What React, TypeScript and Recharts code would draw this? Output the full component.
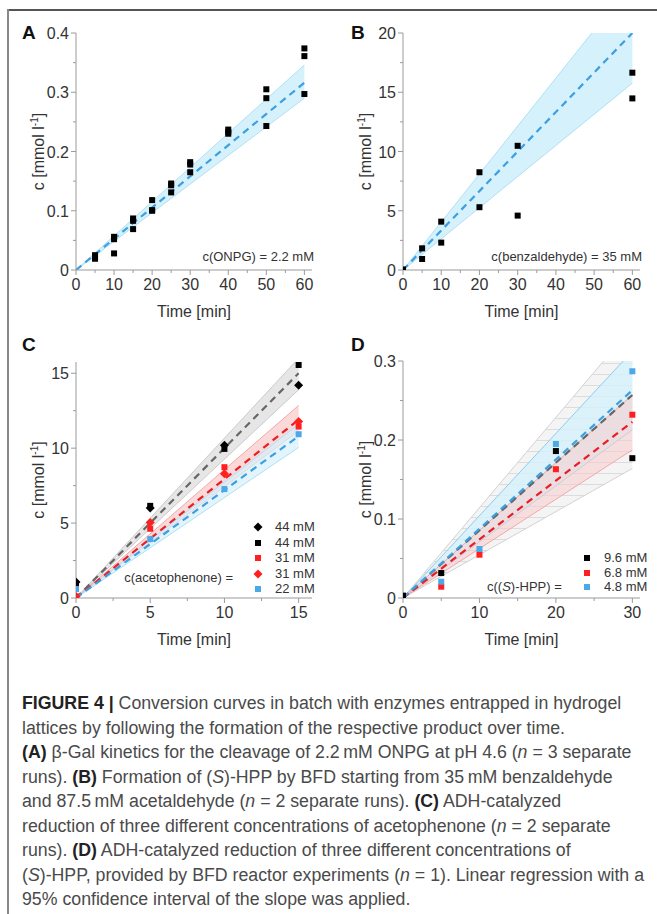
import React from 'react'
import { ComposedChart, Scatter, Line, Area, XAxis, YAxis } from 'recharts'

const FONT = '"Liberation Sans", Arial, sans-serif'
const AXIS = '#9a9a9a'
const INK = '#333'

const BLUE_FILL = '#d5f1fb'
const BLUE_EDGE = '#afe0f4'
const BLUE_DASH = '#3d9fe2'
const GRAY_FILL = '#e6e6e6'
const GRAY_EDGE = '#cacaca'
const GRAY_DASH = '#666'
const RED_FILL = '#f9cccc'
const RED_EDGE = '#f2a8a8'
const RED_DASH = '#ec1c24'
const RED_MARK = '#ff1f1f'
const BLUE_MARK = '#4ba9ea'

// ---- A: beta-Gal, ONPG
const aTime = [5, 5, 5, 10, 10, 10, 15, 15, 15, 20, 20, 20, 25, 25, 25, 30, 30, 30, 40, 40, 40, 50, 50, 50, 60, 60, 60]
const aConc = [0.025, 0.022, 0.019, 0.056, 0.052, 0.028, 0.087, 0.083, 0.069, 0.118, 0.101, 0.1, 0.146, 0.143, 0.131, 0.182, 0.178, 0.165, 0.237, 0.233, 0.23, 0.305, 0.29, 0.243, 0.374, 0.361, 0.297]
const aFitTime = [0, 60]
const aFit = [0, 0.316]
const aLow = [0, 0.29]
const aHigh = [0, 0.346]
const aXTicks = [0, 5, 10, 15, 20, 25, 30, 35, 40, 45, 50, 55, 60]
const aXMajor = [0, 10, 20, 30, 40, 50, 60]
const aYTicks = [0, 0.05, 0.1, 0.15, 0.2, 0.25, 0.3, 0.35, 0.4]
const aYMajor = [0, 0.1, 0.2, 0.3, 0.4]

// ---- B: BFD, benzaldehyde
const bTime = [0, 5, 5, 10, 10, 20, 20, 30, 30, 60, 60]
const bConc = [0.05, 1.83, 0.93, 4.08, 2.31, 8.25, 5.3, 10.48, 4.59, 16.65, 14.48]
const bFitTime = [0, 60]
const bFit = [0, 20]
const bLow = [0, 15.77]
const bHigh = [0, 24.3]
const bXTicks = aXTicks
const bXMajor = aXMajor
const bYTicks = [0, 2.5, 5, 7.5, 10, 12.5, 15, 17.5, 20]
const bYMajor = [0, 5, 10, 15, 20]

// ---- C: ADH, acetophenone
const cTime = [0, 5, 10, 15]
const c44d = [1.07, 6.0, 10.2, 14.2]
const c44s = [0.9, 6.15, 9.95, 15.55]
const c31s = [0.1, 4.62, 8.73, 11.44]
const c31d = [0.1, 5.04, 8.29, 11.78]
const c22s = [0.6, 3.93, 7.27, 10.93]
const cFitTime = [0, 15]
const cFit44 = [0, 15.0]
const cLow44 = [0, 13.9]
const cHigh44 = [0, 16.0]
const cFit31 = [0, 11.9]
const cLow31 = [0, 11.15]
const cHigh31 = [0, 12.85]
const cFit22 = [0, 10.8]
const cLow22 = [0, 10.05]
const cHigh22 = [0, 11.6]
const cXTicks = [0, 2.5, 5, 7.5, 10, 12.5, 15]
const cXMajor = [0, 5, 10, 15]
const cYTicks = [0, 2.5, 5, 7.5, 10, 12.5, 15]
const cYMajor = [0, 5, 10, 15]

// ---- D: ADH, (S)-HPP
const d96Time = [0, 5, 20, 30]
const d96 = [0.003, 0.0316, 0.186, 0.177]
const d68Time = [5, 10, 20, 30]
const d68 = [0.0143, 0.0548, 0.163, 0.232]
const d48Time = [5, 10, 20, 30]
const d48 = [0.0206, 0.062, 0.195, 0.287]
const dFitTime = [0, 30]
const dFit96 = [0, 0.257]
const dLow96 = [0, 0.164]
const dHigh96 = [0, 0.343]
const dFit68 = [0, 0.223]
const dLow68 = [0, 0.1875]
const dHigh68 = [0, 0.257]
const dFit48 = [0, 0.263]
const dLow48 = [0, 0.213]
const dHigh48 = [0, 0.3125]
const dXTicks = [0, 5, 10, 15, 20, 25, 30]
const dXMajor = [0, 10, 20, 30]
const dYTicks = [0, 0.05, 0.1, 0.15, 0.2, 0.25, 0.3]
const dYMajor = [0, 0.1, 0.2, 0.3]

const pts = (t: number[], c: number[]) => t.map((x, i) => ({ t: x, c: c[i] }))
const fit = (t: number[], v: number[]) => t.map((x, i) => ({ t: x, v: v[i] }))
const band = (t: number[], lo: number[], hi: number[]) => t.map((x, i) => ({ t: x, band: [lo[i], hi[i]] }))

const square = (fill: string, s = 6) => (p: any) => (
  <rect x={p.cx - s / 2} y={p.cy - s / 2} width={s} height={s} fill={fill} />
)
const diamond = (fill: string, r = 4.5) => (p: any) => (
  <polygon points={`${p.cx},${p.cy - r} ${p.cx + r},${p.cy} ${p.cx},${p.cy + r} ${p.cx - r},${p.cy}`} fill={fill} />
)

const xTick = (major: number[]) => (p: any) => {
  const v = p.payload.value
  const big = major.includes(v)
  return (
    <g>
      <line x1={p.x} x2={p.x} y1={p.y} y2={p.y + (big ? 5 : 3)} stroke={AXIS} />
      {big && (
        <text x={p.x} y={p.y + 20} textAnchor="middle" fontSize={16} fontFamily={FONT} fill={INK}>
          {v}
        </text>
      )}
    </g>
  )
}

const yTick = (major: number[]) => (p: any) => {
  const v = p.payload.value
  const big = major.includes(v)
  return (
    <g>
      <line x1={p.x} x2={p.x - (big ? 5 : 3)} y1={p.y} y2={p.y} stroke={AXIS} />
      {big && (
        <text x={p.x - 7} y={p.y + 6} textAnchor="end" fontSize={16} fontFamily={FONT} fill={INK}>
          {v}
        </text>
      )}
    </g>
  )
}

const xTitle = (p: any) => {
  const vb = p.viewBox
  return (
    <text x={vb.x + vb.width / 2} y={vb.y + 47} textAnchor="middle" fontSize={16} fontFamily={FONT} fill={INK}>
      Time [min]
    </text>
  )
}

const yTitle = (p: any) => {
  const vb = p.viewBox
  const cx = vb.x + vb.width - 38
  const cy = vb.y + vb.height / 2
  return (
    <text transform={`rotate(-90 ${cx} ${cy})`} x={cx} y={cy + 5.5} textAnchor="middle" fontSize={16} fontFamily={FONT} fill={INK}>
      c [mmol l<tspan dy={-6} fontSize={10}>-1</tspan>
      <tspan dy={6}>]</tspan>
    </text>
  )
}

function xAxis(max: number, ticks: number[], major: number[]) {
  return (
    <XAxis
      type="number"
      dataKey="t"
      domain={[0, max]}
      ticks={ticks}
      interval={0}
      allowDataOverflow
      tickSize={0}
      tickMargin={0}
      tickLine={false}
      axisLine={{ stroke: AXIS }}
      tick={xTick(major)}
      height={40}
      label={{ content: xTitle }}
    />
  )
}

function yAxis(max: number, ticks: number[], major: number[]) {
  return (
    <YAxis
      type="number"
      domain={[0, max]}
      ticks={ticks}
      interval={0}
      allowDataOverflow
      tickSize={0}
      tickMargin={0}
      tickLine={false}
      axisLine={{ stroke: AXIS }}
      tick={yTick(major)}
      width={60}
      label={{ content: yTitle }}
    />
  )
}

function bandArea(data: any[], fill: string, edge: string, opacity = 1) {
  return (
    <Area
      data={data}
      dataKey="band"
      type="linear"
      fill={fill}
      fillOpacity={opacity}
      stroke={edge}
      strokeWidth={1}
      isAnimationActive={false}
      activeDot={false}
      dot={false}
    />
  )
}

function fitLine(data: any[], color: string) {
  return (
    <Line
      data={data}
      dataKey="v"
      type="linear"
      stroke={color}
      strokeWidth={2.2}
      strokeDasharray="7 5"
      dot={false}
      activeDot={false}
      isAnimationActive={false}
    />
  )
}

function marks(data: any[], shape: any) {
  return <Scatter data={data} dataKey="c" shape={shape} isAnimationActive={false} />
}

const txt: React.CSSProperties = { position: 'absolute', fontFamily: FONT, fontSize: 13, lineHeight: '16px', color: INK, whiteSpace: 'nowrap' }
const letter: React.CSSProperties = { position: 'absolute', fontFamily: FONT, fontSize: 19, fontWeight: 700, lineHeight: '20px', color: '#111' }

function LegendRows({ x, y, step, rows }: { x: number; y: number; step: number; rows: { label: string; color: string; kind: 'sq' | 'di' }[] }) {
  return (
    <>
      {rows.map((r, i) => (
        <div key={i} style={{ position: 'absolute', left: x - 8, top: y + i * step - 8, height: 16, display: 'flex', alignItems: 'center' }}>
          <svg width={16} height={16}>
            {r.kind === 'sq' ? <rect x={5} y={5} width={6} height={6} fill={r.color} /> : <polygon points="8,3.5 12.5,8 8,12.5 3.5,8" fill={r.color} />}
          </svg>
          <span style={{ ...txt, position: 'static', marginLeft: 9 }}>{r.label}</span>
        </div>
      ))}
    </>
  )
}

const B = (p: { children: React.ReactNode }) => <b style={{ color: '#222' }}>{p.children}</b>
const I = (p: { children: React.ReactNode }) => <i>{p.children}</i>

const caption: React.ReactNode[] = [
  <><B>FIGURE 4 |</B> Conversion curves in batch with enzymes entrapped in hydrogel</>,
  <>lattices by following the formation of the respective product over time.</>,
  <><B>(A)</B> β-Gal kinetics for the cleavage of 2.2{'\u2009'}mM ONPG at pH 4.6 (<I>n</I> = 3 separate</>,
  <>runs). <B>(B)</B> Formation of (<I>S</I>)-HPP by BFD starting from 35{'\u2009'}mM benzaldehyde</>,
  <>and 87.5{'\u2009'}mM acetaldehyde (<I>n</I> = 2 separate runs). <B>(C)</B> ADH-catalyzed</>,
  <>reduction of three different concentrations of acetophenone (<I>n</I> = 2 separate</>,
  <>runs). <B>(D)</B> ADH-catalyzed reduction of three different concentrations of</>,
  <>(<I>S</I>)-HPP, provided by BFD reactor experiments (<I>n</I> = 1). Linear regression with a</>,
  <>95% confidence interval of the slope was applied.</>,
]

export default function App() {
  return (
    <div style={{ position: 'absolute', left: 0, top: 0, width: 657, height: 914, background: '#fff', overflow: 'hidden' }}>
      <div style={{ position: 'absolute', left: 7, top: 9, width: 650, height: 2, background: '#555' }} />
      <div style={{ position: 'absolute', left: 7, top: 9, width: 1.5, height: 905, background: '#888' }} />

      {/* A */}
      <div style={{ position: 'absolute', left: 0, top: 0 }}>
        <ComposedChart width={330} height={330} margin={{ top: 33, right: 18, bottom: 20, left: 16 }}>
          {xAxis(62, aXTicks, aXMajor)}
          {yAxis(0.4, aYTicks, aYMajor)}
          {bandArea(band(aFitTime, aLow, aHigh), BLUE_FILL, BLUE_EDGE)}
          {fitLine(fit(aFitTime, aFit), BLUE_DASH)}
          {marks(pts(aTime, aConc), square('#000'))}
        </ComposedChart>
      </div>
      <div style={{ ...letter, left: 22, top: 23 }}>A</div>
      <div style={{ ...txt, right: 657 - 314, top: 249 }}>c(ONPG) = 2.2 mM</div>

      {/* B */}
      <div style={{ position: 'absolute', left: 330, top: 0 }}>
        <ComposedChart width={327} height={330} margin={{ top: 33, right: 17, bottom: 20, left: 13 }}>
          {xAxis(62, bXTicks, bXMajor)}
          {yAxis(20, bYTicks, bYMajor)}
          {bandArea(band(bFitTime, bLow, bHigh), BLUE_FILL, BLUE_EDGE)}
          {fitLine(fit(bFitTime, bFit), BLUE_DASH)}
          {marks(pts(bTime, bConc), square('#000'))}
        </ComposedChart>
      </div>
      <div style={{ ...letter, left: 351, top: 23 }}>B</div>
      <div style={{ ...txt, right: 657 - 642, top: 249 }}>c(benzaldehyde) = 35 mM</div>

      {/* C */}
      <div style={{ position: 'absolute', left: 0, top: 330 }}>
        <ComposedChart width={330} height={330} margin={{ top: 32, right: 18, bottom: 22, left: 16 }}>
          {xAxis(15.9, cXTicks, cXMajor)}
          {yAxis(15.75, cYTicks, cYMajor)}
          {bandArea(band(cFitTime, cLow44, cHigh44), GRAY_FILL, GRAY_EDGE)}
          {bandArea(band(cFitTime, cLow31, cHigh31), RED_FILL, RED_EDGE, 0.75)}
          {bandArea(band(cFitTime, cLow22, cHigh22), BLUE_FILL, BLUE_EDGE, 0.7)}
          {fitLine(fit(cFitTime, cFit44), GRAY_DASH)}
          {fitLine(fit(cFitTime, cFit31), RED_DASH)}
          {fitLine(fit(cFitTime, cFit22), BLUE_DASH)}
          {marks(pts(cTime, c44s), square('#000'))}
          {marks(pts(cTime, c44d), diamond('#000'))}
          {marks(pts(cTime, c31s), square(RED_MARK))}
          {marks(pts(cTime, c31d), diamond(RED_MARK))}
          {marks(pts(cTime, c22s), square(BLUE_MARK))}
        </ComposedChart>
      </div>
      <div style={{ ...letter, left: 22, top: 335 }}>C</div>
      <div style={{ ...txt, right: 657 - 233, top: 570 }}>c(acetophenone) =</div>
      <LegendRows
        x={258}
        y={527}
        step={15.5}
        rows={[
          { label: '44 mM', color: '#000', kind: 'di' },
          { label: '44 mM', color: '#000', kind: 'sq' },
          { label: '31 mM', color: RED_MARK, kind: 'sq' },
          { label: '31 mM', color: RED_MARK, kind: 'di' },
          { label: '22 mM', color: BLUE_MARK, kind: 'sq' },
        ]}
      />

      {/* D */}
      <div style={{ position: 'absolute', left: 330, top: 330 }}>
        <ComposedChart width={327} height={330} margin={{ top: 31, right: 17, bottom: 22, left: 13 }}>
          <defs>
            <pattern id="hatchD" width="10" height="11" patternUnits="userSpaceOnUse">
              <rect width="10" height="11" fill="#f4f4f4" />
              <line x1="0" y1="0.5" x2="10" y2="0.5" stroke="#dcdcdc" strokeWidth="1" />
            </pattern>
          </defs>
          {xAxis(31, dXTicks, dXMajor)}
          {yAxis(0.3, dYTicks, dYMajor)}
          {bandArea(band(dFitTime, dLow96, dHigh96), 'url(#hatchD)', '#d2d2d2')}
          {bandArea(band(dFitTime, dLow48, dHigh48), BLUE_FILL, '#8ccdee', 0.8)}
          {bandArea(band(dFitTime, dLow68, dHigh68), RED_FILL, RED_EDGE, 0.55)}
          {fitLine(fit(dFitTime, dFit68), RED_DASH)}
          {fitLine(fit(dFitTime, dFit96), GRAY_DASH)}
          {fitLine(fit(dFitTime, dFit48), BLUE_DASH)}
          {marks(pts(d96Time, d96), square('#000'))}
          {marks(pts(d68Time, d68), square(RED_MARK))}
          {marks(pts(d48Time, d48), square(BLUE_MARK))}
        </ComposedChart>
      </div>
      <div style={{ ...letter, left: 351, top: 335 }}>D</div>
      <div style={{ ...txt, left: 487, top: 579 }}>
        c((<i>S</i>)-HPP) =
      </div>
      <LegendRows
        x={587}
        y={558}
        step={14.5}
        rows={[
          { label: '9.6 mM', color: '#000', kind: 'sq' },
          { label: '6.8 mM', color: RED_MARK, kind: 'sq' },
          { label: '4.8 mM', color: BLUE_MARK, kind: 'sq' },
        ]}
      />

      {/* caption */}
      <div style={{ position: 'absolute', left: 22, top: 691, transformOrigin: '0 0', transform: 'scaleX(0.985)' }}>
        {caption.map((line, i) => (
          <div key={i} style={{ fontFamily: FONT, fontSize: 18, lineHeight: '24.5px', color: '#4a4a4a', whiteSpace: 'nowrap' }}>
            {line}
          </div>
        ))}
      </div>
    </div>
  )
}
